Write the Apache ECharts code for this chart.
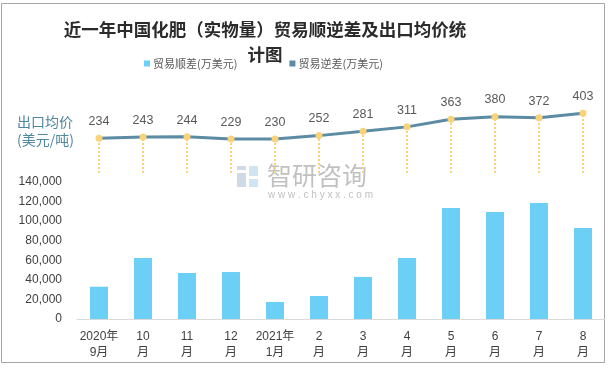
<!DOCTYPE html>
<html>
<head>
<meta charset="utf-8">
<script src="https://cdn.jsdelivr.net/npm/echarts@6/dist/echarts.min.js"></script>
<style>html,body{margin:0;padding:0;background:#fff;}#c{width:610px;height:368px;}</style>
</head>
<body>
<div id="c"></div>
<script>
var categories = ['2020年\n9月','10\n月','11\n月','12\n月','2021年\n1月','2\n月','3\n月','4\n月','5\n月','6\n月','7\n月','8\n月'];
var surplus = [33000, 62300, 47000, 48000, 17400, 23500, 43000, 62300, 113400, 109400, 118500, 93000];
var deficit = [];
var price = [234, 243, 244, 229, 230, 252, 281, 311, 363, 380, 372, 403];
var yTicks = [0, 20000, 40000, 60000, 80000, 100000, 120000, 140000];

var FONT = 'Liberation Sans, Noto Sans CJK SC, sans-serif';
var chart = echarts.init(document.getElementById('c'), null, {renderer: 'canvas'});

var dropLines = price.map(function (v, i) {
  return [{coord: [categories[i], 0]}, {coord: [categories[i], v]}];
});

chart.setOption({
  animation: false,
  textStyle: {fontFamily: FONT},
  title: {
    text: '近一年中国化肥（实物量）贸易顺逆差及出口均价统\n计图',
    left: 260, top: 12, textAlign: 'center',
    textStyle: {fontFamily: 'Noto Sans CJK SC', fontSize: 17.5, fontWeight: 'bold', color: '#2b2b2b', lineHeight: 25}
  },
  legend: {
    data: ['贸易顺差(万美元)', '贸易逆差(万美元)'],
    left: 139, top: 53, icon: 'rect', itemWidth: 6, itemHeight: 6, itemGap: 52,
    textStyle: {fontFamily: 'Noto Sans CJK SC', fontSize: 11, color: '#595959', padding: [0, 0, 0, -2]}
  },
  grid: [
    {left: 77, right: 5, top: 182, bottom: 49},
    {left: 77, right: 5, top: 84, bottom: 195}
  ],
  xAxis: [
    {
      type: 'category', data: categories, gridIndex: 0,
      axisLine: {lineStyle: {color: '#d9d9d9', width: 1}},
      axisTick: {show: false},
      axisLabel: {color: '#404040', fontSize: 12, lineHeight: 16, margin: 10, interval: 0, fontFamily: FONT}
    },
    {
      type: 'category', data: categories, gridIndex: 1, show: false
    }
  ],
  yAxis: [
    {
      type: 'value', gridIndex: 0, min: yTicks[0], max: yTicks[yTicks.length - 1], interval: 20000,
      axisLine: {show: false}, axisTick: {show: false}, splitLine: {show: false},
      axisLabel: {color: '#404040', fontSize: 12, margin: 15, fontFamily: FONT,
        formatter: function (v) { return v.toLocaleString('en-US'); }}
    },
    {
      type: 'value', gridIndex: 1, min: 0, max: 600, show: false
    }
  ],
  series: [
    {
      name: '贸易顺差(万美元)', type: 'bar', xAxisIndex: 0, yAxisIndex: 0,
      data: surplus, barWidth: 18, itemStyle: {color: '#6ccff6'}
    },
    {
      name: '贸易逆差(万美元)', type: 'bar', xAxisIndex: 0, yAxisIndex: 0,
      data: deficit, barWidth: 18, barGap: '-100%', itemStyle: {color: '#5b8ca3'}
    },
    {
      name: '出口均价', type: 'line', xAxisIndex: 1, yAxisIndex: 1,
      data: price, symbol: 'circle', symbolSize: 7,
      lineStyle: {color: '#5b8ca3', width: 3},
      itemStyle: {color: '#f9d27a'},
      label: {show: true, position: 'top', distance: 7, color: '#595959', fontSize: 12.5, fontFamily: FONT},
      z: 5,
      markLine: {
        silent: true, symbol: ['none', 'none'], animation: false,
        label: {show: false},
        lineStyle: {color: '#f9d27a', type: 'dotted', width: 2},
        data: dropLines
      }
    }
  ],
  graphic: [
    {type: 'rect', shape: {x: 1.5, y: 3.5, width: 603, height: 359}, style: {fill: 'none', stroke: '#a6a6a6', lineWidth: 1}, silent: true},
    {type: 'text', left: 17, top: 113, style: {text: '出口均价\n(美元/吨)', fill: '#4f86a0', fontSize: 14, lineHeight: 18, fontFamily: 'Noto Sans CJK SC'}},
    {type: 'rect', shape: {x: 237, y: 166, width: 9, height: 4}, style: {fill: 'rgba(150,170,200,0.45)'}, silent: true},
    {type: 'rect', shape: {x: 237, y: 173, width: 9, height: 14}, style: {fill: 'rgba(150,170,200,0.45)'}, silent: true},
    {type: 'rect', shape: {x: 249, y: 166, width: 9, height: 10}, style: {fill: 'rgba(170,205,230,0.55)'}, silent: true},
    {type: 'rect', shape: {x: 249, y: 179, width: 9, height: 8}, style: {fill: 'rgba(170,205,230,0.55)'}, silent: true},
    {type: 'text', left: 267, top: 163, style: {text: '智研咨询', fill: 'rgba(140,140,140,0.55)', fontSize: 25, fontFamily: 'Noto Sans CJK SC'}, silent: true},
    {type: 'text', left: 268, top: 190, style: {text: 'w w w . c h y x x . c o m', fill: 'rgba(140,140,140,0.55)', fontSize: 10, fontFamily: 'Liberation Sans'}, silent: true}
  ]
});
</script>
</body>
</html>
